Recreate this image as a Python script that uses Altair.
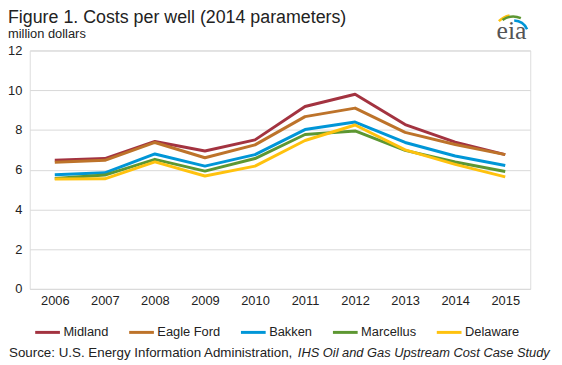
import altair as alt
import pandas as pd
import math

years = [2006, 2007, 2008, 2009, 2010, 2011, 2012, 2013, 2014, 2015]
regions = ["Midland", "Eagle Ford", "Bakken", "Marcellus", "Delaware"]
colors = ["#A33340", "#BD732A", "#0096D7", "#5D9732", "#FFC20E"]

midland = [6.47, 6.56, 7.42, 6.94, 7.50, 9.18, 9.80, 8.27, 7.39, 6.76]
eagle_ford = [6.37, 6.47, 7.37, 6.60, 7.25, 8.67, 9.10, 7.88, 7.27, 6.76]
bakken = [5.74, 5.84, 6.79, 6.18, 6.76, 8.02, 8.40, 7.37, 6.69, 6.21]
marcellus = [5.56, 5.73, 6.52, 5.93, 6.56, 7.77, 7.95, 6.97, 6.39, 5.91]
delaware = [5.53, 5.54, 6.39, 5.68, 6.18, 7.47, 8.25, 7.00, 6.27, 5.64]

y_ticks = [0, 2, 4, 6, 8, 10, 12]

series = [midland, eagle_ford, bakken, marcellus, delaware]
rows = []
for name, vals in zip(regions, series):
    for yr, v in zip(years, vals):
        rows.append({"year": str(yr), "region": name, "value": v})
df = pd.DataFrame(rows)

FONT = "Liberation Sans"
W, H = 506, 241

lines = alt.Chart(df).mark_line(strokeWidth=3, strokeJoin="round").encode(
    x=alt.X("year:O", scale=alt.Scale(paddingOuter=0.5),
            axis=alt.Axis(title=None, labelAngle=0, ticks=False, domain=False,
                          labelFontSize=13, labelColor="#222", labelPadding=6,
                          labelFont=FONT)),
    y=alt.Y("value:Q", scale=alt.Scale(domain=[0, 12], nice=False),
            axis=alt.Axis(title=None, values=y_ticks, ticks=False, domain=False,
                          grid=True, gridColor="#D9D9D9", gridWidth=1,
                          labelFontSize=13, labelColor="#222", labelPadding=8,
                          labelFont=FONT)),
    color=alt.Color("region:N", sort=regions,
                    scale=alt.Scale(domain=regions, range=colors),
                    legend=alt.Legend(title=None, orient="none", direction="horizontal",
                                      legendX=4, legendY=271,
                                      symbolType="stroke", symbolSize=625,
                                      symbolStrokeWidth=3, labelFontSize=13,
                                      labelFont=FONT, labelColor="#222",
                                      columnPadding=14, labelOffset=2)),
)

one = pd.DataFrame({"k": [0]})

def txt(text, x, y, size, **kw):
    return alt.Chart(one).mark_text(text=text, align=kw.pop("align", "left"),
                                    baseline="alphabetic", fontSize=size,
                                    font=kw.pop("font", FONT),
                                    color=kw.pop("color", "#222"), **kw).encode(
        x=alt.value(x), y=alt.value(y))

title = txt("Figure 1. Costs per well (2014 parameters)", -22, -28, 18)
subtitle = txt("million dollars", -22, -12.5, 13)
source1 = txt("Source: U.S. Energy Information Administration, ", -21, 310, 13.5)
source2 = txt("IHS Oil and Gas Upstream Cost Case Study", 271, 310, 13, fontStyle="italic")
logo = txt("eia", 487, -12, 26, align="center", font="Liberation Serif", color="#555")

TAU = 2 * math.pi

def arc(r, t1, t2, col):
    return alt.Chart(one).mark_arc(radius=r, radius2=r - 2.5, theta=t1 + TAU, theta2=t2 + TAU,
                                   color=col).encode(
        x=alt.value(489), y=alt.value(-15))

arcs = [arc(22, -0.79, -0.19, "#FFC20E"), arc(20.5, -0.61, 0.40, "#5D9732"),
        arc(16.5, 0.05, 1.13, "#0096D7")]

chart = alt.layer(lines, title, subtitle, source1, source2, logo, *arcs).properties(
    width=W, height=H,
    autosize=alt.AutoSizeParams(type="none"),
    padding={"left": 22, "top": 41, "right": 24, "bottom": 74},
).configure_view(stroke=None).configure(font=FONT)

chart.save("out.html", embed_options={"renderer": "svg", "actions": False})
